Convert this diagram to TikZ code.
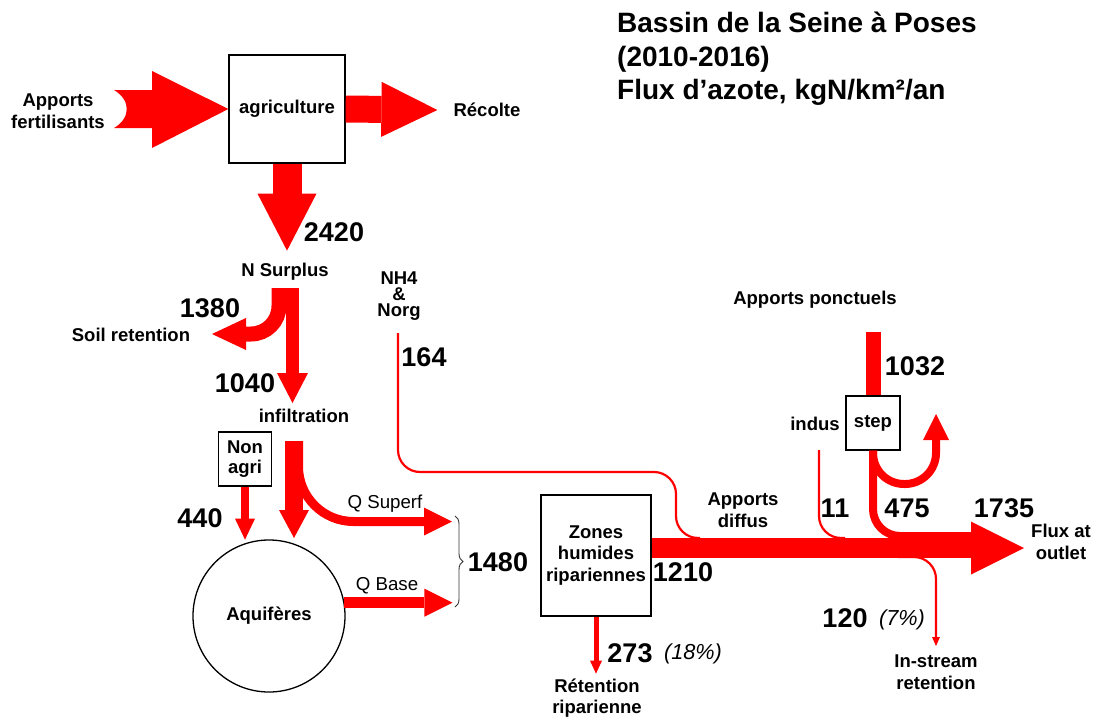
\documentclass[tikz,border=0pt]{standalone}
\usepackage{fontspec}
\setmainfont{Liberation Sans}
\usepackage{tikz}
\usetikzlibrary{arrows.meta, positioning, decorations.pathreplacing}
\definecolor{fluxred}{RGB}{255,0,0}

\begin{document}
\begin{tikzpicture}[x=1pt, y=-1pt,
    flux/.style={draw=fluxred, line cap=butt},
    thin flux/.style={draw=fluxred, line width=2.2pt},
    lbl/.style={font=\bfseries\fontsize{18.5}{21.5}\selectfont, align=center, inner sep=0pt},
    num/.style={font=\bfseries\fontsize{27}{30}\selectfont, inner sep=0pt},
    pct/.style={font=\itshape\fontsize{21.7}{24}\selectfont, inner sep=0pt},
    qlbl/.style={font=\fontsize{18.7}{21}\selectfont, inner sep=0pt},
    box/.style={draw, fill=white, line width=1.3pt, inner sep=0pt, align=center,
                font=\bfseries\fontsize{18.5}{21.5}\selectfont}]
  \useasboundingbox (0,0) rectangle (1097,720);

  % compartments
  \node[box, minimum width=116pt, minimum height=108pt] (agri) at (287,109) {agriculture};
  \node[box, minimum width=53pt, minimum height=54pt,
        font=\bfseries\fontsize{18.5}{20}\selectfont] (nonagri) at (245,459) {Non\\agri};
  \node[box, circle, minimum size=152pt] (aquif) at (269,616) {Aquifères};
  \node[box, minimum width=110pt, minimum height=121pt] (zones) at (596,555.5) {Zones\\humides\\ripariennes};
  \node[box, minimum width=54pt, minimum height=54pt] (step) at (873,423) {step};

  % labels
  \node[anchor=north west, align=left, inner sep=0pt,
        font=\bfseries\fontsize{28}{33.5}\selectfont] (title) at (617,12)
        {Bassin de la Seine à Poses\\(2010-2016)\\Flux d’azote, kgN/km²/an};
  \node[lbl] (fert) at (58,111) {Apports\\fertilisants};
  \node[lbl] (recolte) at (487,110) {Récolte};
  \node[num] (n2420) at (334,232) {2420};
  \node[lbl] (surplus) at (285,272) {N Surplus};
  \node[num] (n1380) at (210,308) {1380};
  \node[lbl] (soil) at (131,335) {Soil retention};
  \node[num] (n1040) at (245,383) {1040};
  \node[lbl] (infil) at (304,416) {infiltration};
  \node[lbl, font=\bfseries\fontsize{18.5}{16}\selectfont] (nh4) at (399,296) {NH4\\\&\\Norg};
  \node[num] (n164) at (424,357) {164};
  \node[num] (n440) at (200,518) {440};
  \node[qlbl] (qsup) at (385,504) {Q Superf};
  \node[qlbl] (qbase) at (387,586) {Q Base};
  \node[num] (n1480) at (498,562) {1480};
  \node[num] (n1210) at (683,572) {1210};
  \node[lbl] (diffus) at (743,510) {Apports\\diffus};
  \node[lbl] (ponct) at (815,300) {Apports ponctuels};
  \node[num] (n1032) at (915,366) {1032};
  \node[lbl] (indus) at (815,424) {indus};
  \node[num] (n11) at (835,508) {11};
  \node[num] (n475) at (907,508) {475};
  \node[num] (n1735) at (1004,508) {1735};
  \node[lbl] (outlet) at (1061,542) {Flux at\\outlet};
  \node[num] (n273) at (630,653) {273};
  \node[pct] (p18) at (693,654) {(18\%)};
  \node[lbl] (ripret) at (597,698) {Rétention\\riparienne};
  \node[num] (n120) at (845,618) {120};
  \node[pct] (p7) at (902,620) {(7\%)};
  \node[lbl] (instream) at (936,672) {In-stream\\retention};

  % flows
  \fill[fluxred] (114,90) -- (152,90) -- (152,71) -- (agri.west) -- (152,148) -- (152,128)
    -- (114,128) .. controls (131,118) and (131,100) .. (114,90) -- cycle;
  \draw[flux, line width=27pt, -{Triangle[length=56pt, width=55pt, line width=0pt]}]
    (agri.east) -- ([xshift=-16pt]recolte.west);
  \draw[flux, line width=29pt, -{Triangle[length=57pt, width=59pt, line width=0pt]}]
    (agri.south) -- ++(0,87);
  \draw[flux, line width=15pt, rounded corners=28pt, -{Triangle[length=34pt, width=32pt, line width=0pt]}]
    (279,288) -- (279,334) -- (212,334);
  \draw[flux, line width=13pt, -{Triangle[length=30pt, width=31pt, line width=0pt]}]
    (292.5,288) -- (292.5,403);

  \draw[flux, line width=9pt, rounded corners=55pt, -{Triangle[length=28pt, width=28pt, line width=0pt]}]
    (298.5,441) -- (298.5,521.5) -- (452,521.5);
  \draw[flux, line width=18pt, -{Triangle[length=28pt, width=30pt, line width=0pt]}]
    (294,441) -- (294,538);
  \draw[flux, line width=8pt, -{Triangle[length=21pt, width=20pt, line width=0pt]}]
    (nonagri.south) -- ++(0,53);
  \draw[flux, line width=11pt, -{Triangle[length=28pt, width=28pt, line width=0pt]}]
    (aquif.10) -- ++(108,0);
  \draw[decorate, decoration={brace, amplitude=8pt}, line width=0.9pt, black!80]
    (455,516) -- (455,607);

  \draw[thin flux, rounded corners=22pt]
    (398,333) -- (398,472) -- (676,472) -- (676,538) -- (700,538);
  \draw[flux, line width=20pt, -{Triangle[length=53pt, width=53pt, line width=0pt]}]
    (zones.east |- 0,548) -- (1024,548);
  \draw[flux, line width=5pt, -{Triangle[length=13pt, width=12pt, line width=0pt]}]
    (zones.south) -- ++(0,57);

  \draw[flux, line width=15pt] (step.north) -- ++(0,-63);
  \draw[flux, line width=8pt, rounded corners=27pt]
    (step.south) -- (873,536) -- (972,536);
  \draw[flux, line width=8pt, rounded corners=31pt, -{Triangle[length=26pt, width=26pt, line width=0pt]}]
    (step.south) -- (873,484) -- (936,484) -- (936,414);
  \draw[thin flux, rounded corners=22pt]
    (819,450) -- (819,538) -- (845,538);
  \draw[thin flux, rounded corners=22pt, -{Triangle[length=9pt, width=8pt, line width=0pt]}]
    (898,557) -- (936,557) -- (936,646);
\end{tikzpicture}
\end{document}
